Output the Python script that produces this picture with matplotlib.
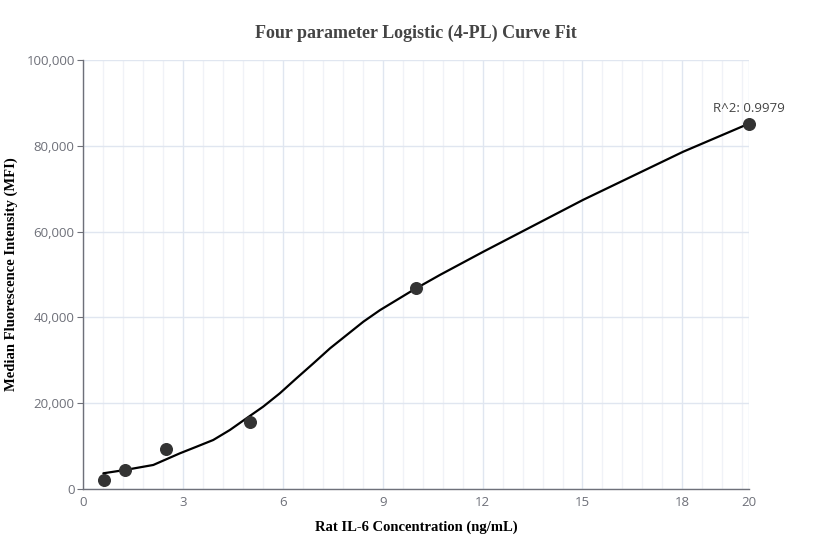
import numpy as np
import matplotlib.pyplot as plt
from matplotlib.ticker import FixedLocator, FuncFormatter

# standards
conc = [0.625, 1.25, 2.5, 5, 10, 20]
mfi = [2100, 4400, 9300, 15600, 46900, 85100]

# fitted curve
fit_x = [0.61, 1.26, 2.11, 2.91, 3.41, 3.91, 4.41, 4.91, 5.41, 5.91, 6.41, 6.92, 7.42,
         7.92, 8.42, 8.92, 9.92, 10.72, 12.02, 15.02, 18.02, 19.98]
fit_y = [3660, 4430, 5600, 8320, 9860, 11420, 13750, 16480, 19190, 22300, 25800, 29300,
         32800, 35900, 39000, 41700, 46400, 49900, 55300, 67400, 78600, 85100]

x_ticks = [0, 3, 6, 9, 12, 15, 18, 20]
x_minor = [round(0.6 * i, 1) for i in range(1, 34)]
y_ticks = [0, 20000, 40000, 60000, 80000, 100000]

r2_text = "R^2: 0.9979"

plt.rcParams['font.family'] = ['Open Sans', 'DejaVu Sans']

fig = plt.figure(figsize=(8.32, 5.6), dpi=100)
ax = fig.add_axes([0.0998, 0.1268, 0.8004, 0.7661])

ax.plot(fit_x, fit_y, color='black', linewidth=1.6, zorder=3,
        solid_capstyle='round', solid_joinstyle='round')
ax.scatter(conc, mfi, s=70, color='#333333', zorder=4, clip_on=False)

ax.set_xlim(0, 20)
ax.set_ylim(0, 100000)
ax.xaxis.set_major_locator(FixedLocator(x_ticks))
ax.xaxis.set_minor_locator(FixedLocator(x_minor))
ax.yaxis.set_major_locator(FixedLocator(y_ticks))
ax.yaxis.set_major_formatter(FuncFormatter(lambda v, p: f"{int(v):,}"))

ax.grid(True, which='major', axis='both', color='#e0e6f0', linewidth=1)
ax.grid(True, which='minor', axis='x', color='#f0f2f7', linewidth=1)
ax.set_axisbelow(True)

for s in ['top', 'right']:
    ax.spines[s].set_visible(False)
for s in ['left', 'bottom']:
    ax.spines[s].set_color('#6e7079')
    ax.spines[s].set_linewidth(1)

ax.tick_params(which='major', length=4, color='#6e7079', labelcolor='#6e7079',
               labelsize=9.5, pad=2)
ax.tick_params(which='minor', length=0)
ax.tick_params(axis='x', which='major', length=0, pad=5)

serif = ['Liberation Serif', 'DejaVu Serif']
fig.text(0.5, 0.94, "Four parameter Logistic (4-PL) Curve Fit", ha='center', va='center',
         fontsize=13, fontweight='bold', family=serif, color='#444444')
ax.set_xlabel("Rat IL-6 Concentration (ng/mL)", fontsize=10.5, fontweight='bold',
              family=serif, labelpad=8)
ax.set_ylabel("Median Fluorescence Intensity (MFI)", fontsize=10.5, fontweight='bold',
              family=serif, labelpad=6)

ax.annotate(r2_text, (conc[-1], mfi[-1]), xytext=(0, 11), textcoords='offset points',
            ha='center', va='center', fontsize=9.5, color='#444444')

fig.savefig("out.png", dpi=100)
